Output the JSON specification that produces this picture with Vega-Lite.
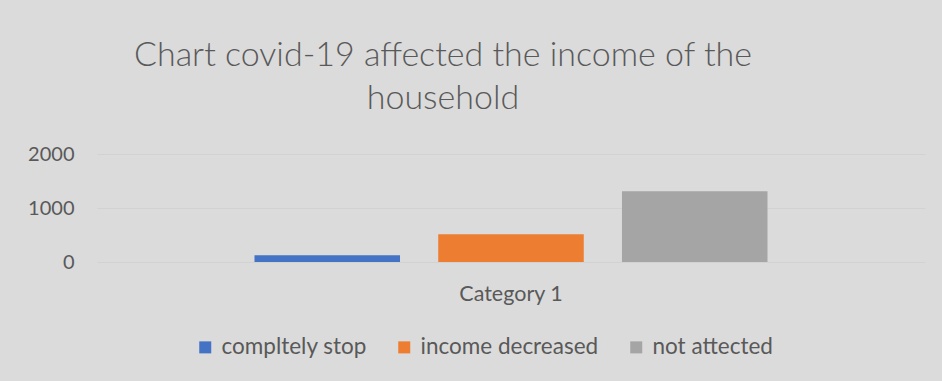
{
  "$schema": "https://vega.github.io/schema/vega-lite/v6.json",
  "autosize": {"type": "none"},
  "width": 828,
  "height": 108,
  "padding": {"left": 97, "top": 154, "right": 17, "bottom": 119},
  "background": "#dbdbdb",
  "title": {
    "text": ["Chart covid-19 affected the income of the", "household"],
    "font": "Lato",
    "fontSize": 34,
    "fontWeight": 300,
    "color": "#595959",
    "lineHeight": 43,
    "anchor": "middle",
    "dx": -68,
    "offset": 28
  },
  "data": {
    "values": [
      {"category": "Category 1", "series": "compltely stop", "value": 125},
      {"category": "Category 1", "series": "income decreased", "value": 513},
      {"category": "Category 1", "series": "not attected", "value": 1310}
    ]
  },
  "mark": {"type": "bar"},
  "encoding": {
    "x": {
      "field": "category",
      "type": "nominal",
      "title": null,
      "scale": {"paddingInner": 0, "paddingOuter": 0.307},
      "axis": {"domain": false, "ticks": false, "labelAngle": 0, "labelPadding": 21, "labelFontSize": 21.5, "labelFont": "Lato", "labelColor": "#595959", "grid": false}
    },
    "xOffset": {
      "field": "series",
      "type": "nominal",
      "sort": ["compltely stop", "income decreased", "not attected"],
      "scale": {"paddingInner": 0.208, "paddingOuter": 0}
    },
    "y": {
      "field": "value",
      "type": "quantitative",
      "title": null,
      "scale": {"domain": [0, 2000]},
      "axis": {"values": [0, 1000, 2000], "format": "d", "domain": false, "ticks": false, "labelPadding": 23, "labelFontSize": 20, "labelFont": "Lato", "labelColor": "#595959", "gridColor": "#d2d2d2", "gridWidth": 1}
    },
    "color": {
      "field": "series",
      "type": "nominal",
      "sort": ["compltely stop", "income decreased", "not attected"],
      "scale": {"domain": ["compltely stop", "income decreased", "not attected"], "range": ["#4472c4", "#ed7d31", "#a5a5a5"]},
      "legend": {
        "title": null,
        "orient": "none",
        "direction": "horizontal",
        "legendX": 97,
        "legendY": 182,
        "symbolType": "square",
        "symbolSize": 144,
        "symbolStrokeWidth": 0,
        "labelFont": "Lato",
        "labelFontSize": 22.5,
        "labelLimit": 400,
        "labelColor": "#595959",
        "labelOffset": 5,
        "columnPadding": 26
      }
    }
  },
  "config": {
    "view": {"stroke": null}
  }
}
